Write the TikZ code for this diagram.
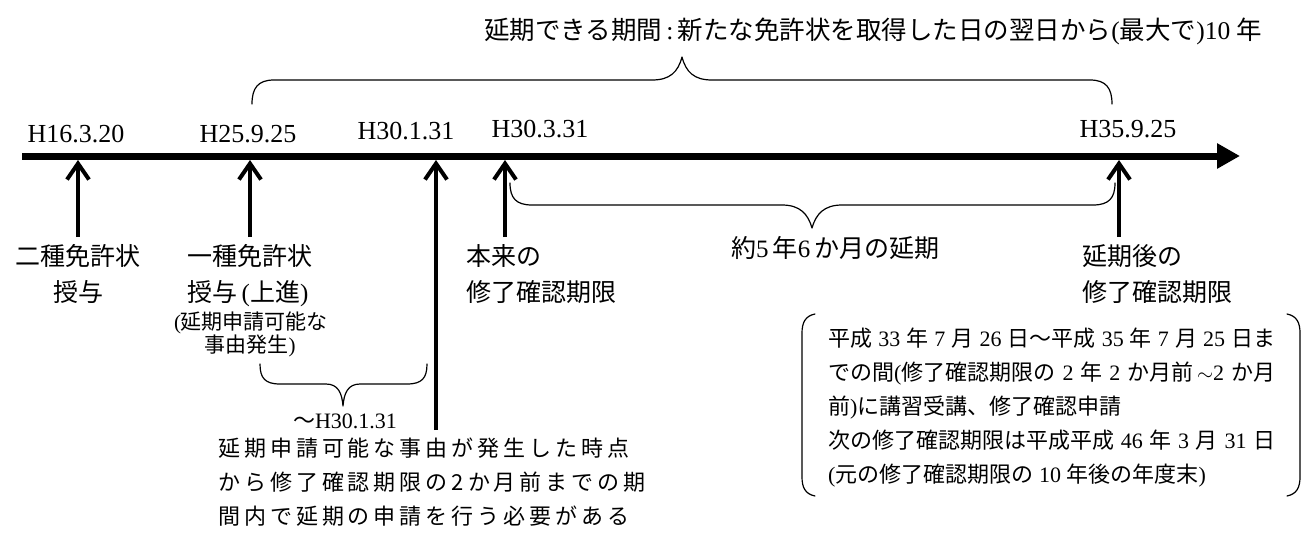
\documentclass[tikz,border=0pt]{standalone}
\usepackage{fontspec}
\setmainfont{Liberation Serif}
\newfontfamily\jp{Noto Sans CJK JP}
\newfontfamily\jpls[LetterSpace=18]{Noto Sans CJK JP}
\usetikzlibrary{arrows.meta}
\newcommand\J[1]{{\jp#1}}
\tikzset{
  txt/.style={inner sep=0pt, anchor=base},
  date/.style={txt, font=\fontsize{26}{30}\selectfont},
  lab/.style={txt, font=\jp\fontsize{25}{30}\selectfont},
  sml/.style={txt, font=\jp\fontsize{21}{24}\selectfont},
  note/.style={txt, anchor=base west, font=\fontsize{22}{26}\selectfont},
  cond/.style={txt, anchor=base west, font=\jpls\fontsize{22}{26}\selectfont},
  axisline/.style={line width=7pt, -{Triangle[length=23pt,width=24pt]}},
  uparrow/.style={line width=4pt, -{Straight Barb[length=16pt,width=22pt]}},
  brace/.style={line width=1.2pt, line cap=round, line join=round},
}
\begin{document}
\begin{tikzpicture}[x=1pt,y=-1pt]
\useasboundingbox (0,0) rectangle (1307,547);

% title
\node[txt, anchor=base west, font=\fontsize{25.5}{28}\selectfont] (title) at (484,39)
  {\J{延期できる期間}\,:\,\J{新たな免許状を取得した日の翌日から}(\J{最大で})10 \J{年}};

% top brace
\draw[brace] (252,104) .. controls (252,88) and (258,80) .. (274,80) -- (652,80)
  .. controls (670,80) and (678,72) .. (682,57)
  .. controls (686,72) and (694,80) .. (712,80) -- (1090,80)
  .. controls (1106,80) and (1112,88) .. (1112,104);

% axis
\coordinate (ax0) at (22,156);
\coordinate (ax1) at (1240,156);
\draw[axisline] (ax0) -- (ax1);

% dates
\node[date] (d1) at (76,142) {H16.3.20};
\node[date] (d2) at (248,142) {H25.9.25};
\node[date] (d3) at (406,139) {H30.1.31};
\node[date] (d4) at (540,137) {H30.3.31};
\node[date] (d5) at (1128,137) {H35.9.25};

% arrows
\coordinate (t1) at (78,160);   \coordinate (s1) at (78,237);
\coordinate (t2) at (250,160);  \coordinate (s2) at (250,237);
\coordinate (t3) at (436,160);  \coordinate (s3) at (436,430);
\coordinate (t4) at (505,160);  \coordinate (s4) at (505,237);
\coordinate (t5) at (1119,160); \coordinate (s5) at (1119,237);
\foreach \i in {1,...,5} \draw[uparrow] (s\i) -- (t\i);

% labels under arrows
\node[lab] (l1a) at (78,265) {二種免許状};
\node[lab] (l1b) at (78,301) {授与};
\node[lab] (l2a) at (250,265) {一種免許状};
\node[lab] (l2b) at (250,301) {授与{\rmfamily\,(}上進{\rmfamily)\,}};
\node[sml] (l2c) at (251,329) {{\rmfamily(}延期申請可能な};
\node[sml] (l2d) at (250,352) {事由発生{\rmfamily)}};
\node[lab, anchor=base west] (l4a) at (466,265) {本来の};
\node[lab, anchor=base west] (l4b) at (466,301) {修了確認期限};
\node[lab, anchor=base west] (l5a) at (1082,265) {延期後の};
\node[lab, anchor=base west] (l5b) at (1082,301) {修了確認期限};

% middle brace
\draw[brace] (510,183) .. controls (510,198) and (516,205) .. (532,205) -- (782,205)
  .. controls (800,205) and (808,214) .. (812,228)
  .. controls (816,214) and (824,205) .. (842,205) -- (1093,205)
  .. controls (1109,205) and (1115,198) .. (1115,183);
\node[txt, anchor=base west, font=\fontsize{25}{30}\selectfont] (ext) at (731,257)
  {\J{約}5\,\J{年}6\,\J{か月の延期}};

% small brace
\draw[brace] (260,364) .. controls (260,378) and (265,384) .. (280,384) -- (326,384)
  .. controls (338,384) and (342,393) .. (343,406)
  .. controls (344,393) and (348,384) .. (360,384) -- (407,384)
  .. controls (422,384) and (427,378) .. (427,364);
\node[txt, font=\fontsize{22}{26}\selectfont] (until) at (345,428) {\J{～}H30.1.31};
\node[cond] (b1) at (218,456) {延期申請可能な事由が発生した時点};
\node[cond] (b2) at (218,490) {から修了確認期限の2か月\,前までの期};
\node[cond] (b3) at (218,524) {間内で延期の申請を行う必要がある};

% bracket box
\draw[brace] (815,314) .. controls (805,316) and (802,323) .. (802,333) -- (802,477)
  .. controls (802,487) and (805,494) .. (815,496);
\draw[brace] (1287,314) .. controls (1297,316) and (1300,323) .. (1300,333) -- (1300,477)
  .. controls (1300,487) and (1297,494) .. (1287,496);
\node[note] (n1) at (828,346) {\makebox[447pt][s]{\J{平成} 33 \J{年} 7 \J{月} 26 \J{日～平成} 35 \J{年} 7 \J{月} 25 \J{日ま}}};
\node[note] (n2) at (828,380) {\makebox[447pt][s]{\J{での間}(\J{修了確認期限の} 2 \J{年} 2 \J{か月前}\,$\sim$2 \J{か月}}};
\node[note] (n3) at (828,414) {\J{前}){\jp に講習受講、修了確認申請}};
\node[note] (n4) at (828,448) {\makebox[447pt][s]{\J{次の修了確認期限は平成平成} 46 \J{年} 3 \J{月} 31 \J{日}}};
\node[note] (n5) at (828,482) {(\J{元の修了確認期限の} 10 \J{年後の年度末})};
\end{tikzpicture}
\end{document}
